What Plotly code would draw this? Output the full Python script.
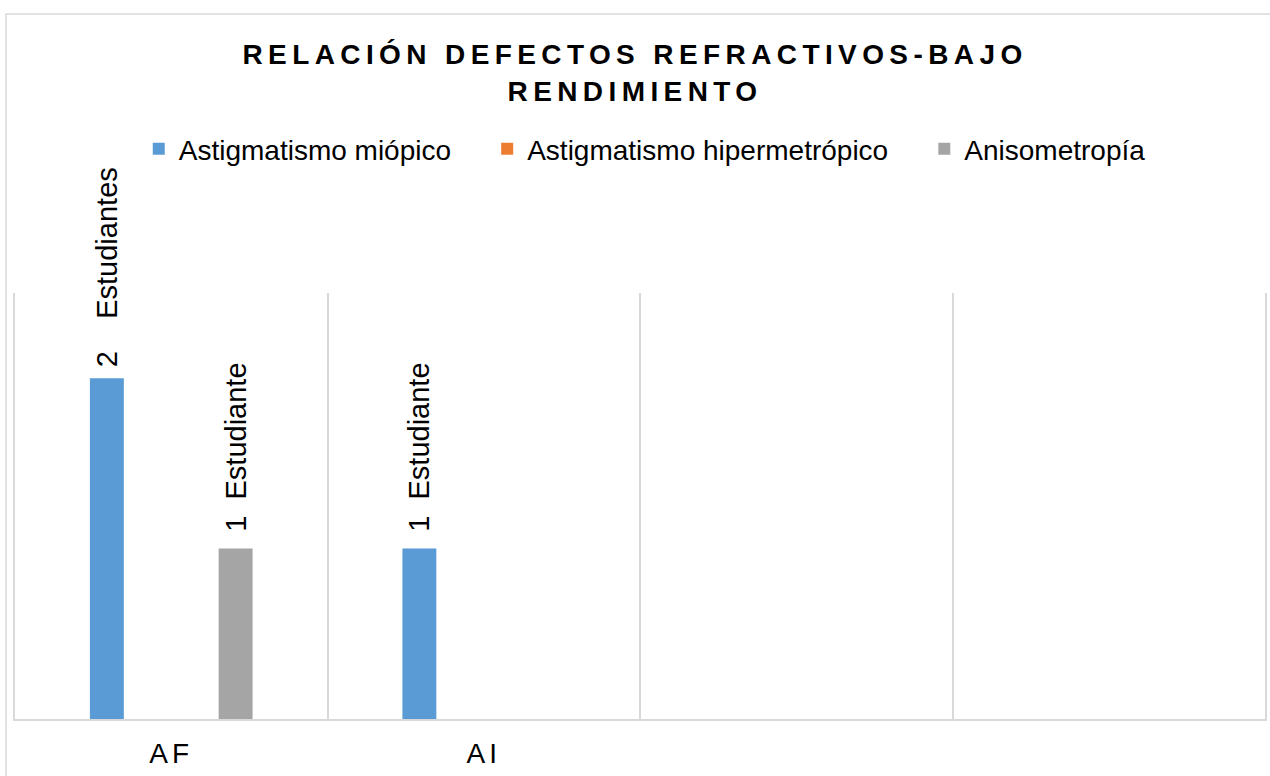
import plotly.graph_objects as go

CATEGORIES = ["AF", "AI", "", ""]
SERIES_NAMES = ["Astigmatismo miópico", "Astigmatismo hipermetrópico", "Anisometropía"]
MIOPICO = [2, 1, None, None]
HIPERMETROPICO = [None, None, None, None]
ANISOMETROPIA = [1, None, None, None]
TITLE = "RELACIÓN DEFECTOS REFRACTIVOS-BAJO<br>RENDIMIENTO"

COLORS = ["#5B9BD5", "#ED7D31", "#A5A5A5"]
GRID = "#D9D9D9"
FONT = "Arial, Liberation Sans, sans-serif"


def _label(value):
    # bar label: value + unit, padded so it sits like the original data labels
    if value is None:
        return ""
    if value == 1:
        return f"\u00a0\u2009{value}\u00a0\u00a0Estudiante"
    return f"\u00a0{value}\u00a0\u00a0\u00a0\u00a0Estudiantes"


fig = go.Figure()
x_positions = list(range(len(CATEGORIES)))
for name, values, color in zip(SERIES_NAMES, [MIOPICO, HIPERMETROPICO, ANISOMETROPIA], COLORS):
    fig.add_trace(
        go.Bar(
            x=x_positions,
            y=values,
            name=name + "\u00a0" * 4,
            marker={"color": color, "line": {"width": 0}},
            text=[_label(v) for v in values],
            textposition="outside",
            textangle=-90,
            constraintext="none",
            cliponaxis=False,
            textfont={"family": FONT, "size": 29, "color": "#000000"},
            hoverinfo="skip",
        )
    )

boundaries = [i - 0.5 for i in range(len(CATEGORIES) + 1)]

fig.update_layout(
    width=1270,
    height=776,
    margin={"l": 15, "r": 3, "t": 293, "b": 57},
    paper_bgcolor="white",
    plot_bgcolor="white",
    barmode="group",
    bargap=0.382,
    bargroupgap=0.473,
    font={"family": FONT, "size": 28, "color": "#000000"},
    title={
        "text": TITLE,
        "x": 0.5,
        "xanchor": "center",
        "y": 0.917,
        "yanchor": "top",
        "font": {"family": FONT, "size": 28, "color": "#000000", "weight": "bold"},
    },
    legend={
        "orientation": "h",
        "x": 0.099,
        "xanchor": "left",
        "y": 1.338,
        "yanchor": "middle",
        "font": {"family": FONT, "size": 28, "color": "#000000"},
        "bgcolor": "rgba(0,0,0,0)",
    },
    showlegend=True,
    shapes=[
        {
            "type": "rect",
            "xref": "paper",
            "yref": "paper",
            "x0": -0.0072,
            "x1": 1.03,
            "y0": -0.3,
            "y1": 1.655,
            "line": {"color": GRID, "width": 1.5},
            "fillcolor": "rgba(0,0,0,0)",
            "layer": "below",
        }
    ],
)

fig.update_xaxes(
    range=[-0.5, len(CATEGORIES) - 0.5],
    tickmode="array",
    tickvals=x_positions,
    ticktext=CATEGORIES,
    showgrid=False,
    zeroline=False,
    showline=True,
    linecolor=GRID,
    linewidth=1.5,
    ticks="",
    ticklabelstandoff=9,
    tickfont={"family": FONT, "size": 28, "color": "#000000"},
    minor={"tickmode": "array", "tickvals": boundaries, "showgrid": True, "gridcolor": GRID, "gridwidth": 1.5, "ticks": ""},
    fixedrange=True,
)
fig.update_yaxes(
    range=[0, 2.5],
    showgrid=False,
    zeroline=False,
    showticklabels=False,
    showline=True,
    mirror=True,
    linecolor=GRID,
    linewidth=1.5,
    ticks="",
    fixedrange=True,
)

POST = """
document.body.style.margin = '0';
var gd = document.getElementById('{plot_id}');
gd.querySelectorAll('.gtitle').forEach(function(t){ t.style.letterSpacing = '5.4px'; });
gd.querySelectorAll('.xtick text').forEach(function(t){ t.style.letterSpacing = '4px'; });
"""

fig.write_html("out.html", post_script=POST, config={"displayModeBar": False})
